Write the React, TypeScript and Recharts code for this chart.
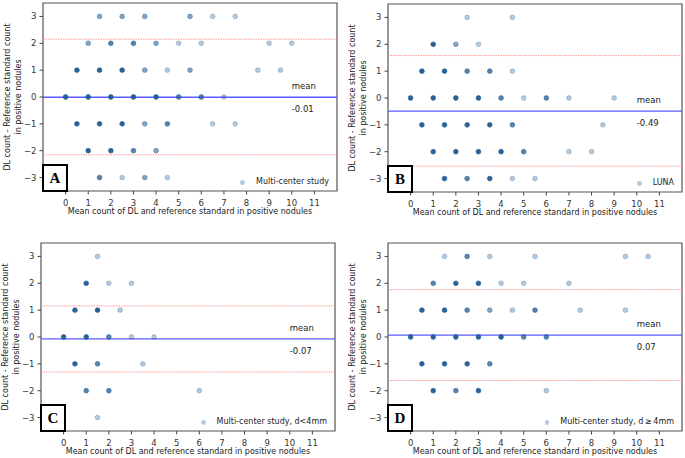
import React from "react";
import {
  ScatterChart,
  Scatter,
  XAxis,
  YAxis,
  ReferenceLine,
  ReferenceArea,
  Label,
} from "recharts";

// [mean count, difference, overlap level 1..4]
type Pt = [number, number, number];

const aPoints: Pt[] = [
  [1.5, 3, 2], [2.5, 3, 2], [3.5, 3, 2], [5.5, 3, 2], [6.5, 3, 1], [7.5, 3, 1],
  [1, 2, 2], [2, 2, 3], [3, 2, 3], [4, 2, 2], [5, 2, 1], [6, 2, 1], [9, 2, 1], [10, 2, 1],
  [0.5, 1, 4], [1.5, 1, 4], [2.5, 1, 4], [3.5, 1, 2], [4.5, 1, 1], [5.5, 1, 2], [8.5, 1, 1], [9.5, 1, 1],
  [0, 0, 4], [1, 0, 4], [2, 0, 4], [3, 0, 4], [4, 0, 4], [5, 0, 3], [6, 0, 3], [7, 0, 1],
  [0.5, -1, 4], [1.5, -1, 4], [2.5, -1, 4], [3.5, -1, 2], [4.5, -1, 3], [6.5, -1, 1], [7.5, -1, 1],
  [1, -2, 4], [2, -2, 4], [3, -2, 3], [4, -2, 2],
  [1.5, -3, 3], [2.5, -3, 1], [3.5, -3, 2], [4.5, -3, 1],
];

const bPoints: Pt[] = [
  [2.5, 3, 1], [4.5, 3, 1],
  [1, 2, 4], [2, 2, 2], [3, 2, 1],
  [0.5, 1, 4], [1.5, 1, 4], [2.5, 1, 3], [3.5, 1, 3], [4.5, 1, 1],
  [0, 0, 4], [1, 0, 4], [2, 0, 4], [3, 0, 4], [4, 0, 3], [5, 0, 1], [6, 0, 3], [7, 0, 1], [9, 0, 1],
  [0.5, -1, 4], [1.5, -1, 4], [2.5, -1, 4], [3.5, -1, 4], [4.5, -1, 3], [8.5, -1, 1],
  [1, -2, 4], [2, -2, 4], [3, -2, 4], [4, -2, 4], [5, -2, 3], [7, -2, 1], [8, -2, 1],
  [1.5, -3, 4], [2.5, -3, 3], [3.5, -3, 4], [4.5, -3, 1], [5.5, -3, 1],
];

const cPoints: Pt[] = [
  [1.5, 3, 1],
  [1, 2, 4], [2, 2, 1], [3, 2, 1],
  [0.5, 1, 4], [1.5, 1, 4], [2.5, 1, 1],
  [0, 0, 4], [1, 0, 4], [2, 0, 3], [3, 0, 1], [4, 0, 1],
  [0.5, -1, 4], [1.5, -1, 3], [3.5, -1, 1],
  [1, -2, 3], [2, -2, 3], [6, -2, 1],
  [1.5, -3, 1],
];

const dPoints: Pt[] = [
  [1.5, 3, 1], [2.5, 3, 3], [3.5, 3, 1], [5.5, 3, 1], [9.5, 3, 1], [10.5, 3, 1],
  [1, 2, 3], [2, 2, 4], [3, 2, 4], [4, 2, 1], [5, 2, 1], [7, 2, 1],
  [0.5, 1, 4], [1.5, 1, 4], [2.5, 1, 3], [3.5, 1, 2], [4.5, 1, 1], [5.5, 1, 3], [7.5, 1, 1], [9.5, 1, 1],
  [0, 0, 4], [1, 0, 4], [2, 0, 4], [3, 0, 4], [4, 0, 4], [5, 0, 3], [6, 0, 3],
  [0.5, -1, 4], [1.5, -1, 4], [2.5, -1, 4], [3.5, -1, 3],
  [1, -2, 4], [2, -2, 3], [3, -2, 4], [6, -2, 1],
];

// mean difference and limits of agreement per panel (A, B, C, D)
const means = [-0.01, -0.49, -0.07, 0.07];
const upperLimits = [2.15, 1.58, 1.16, 1.76];
const lowerLimits = [-2.15, -2.54, -1.3, -1.62];
const letters = ["A", "B", "C", "D"];
const legendNames = [
  "Multi-center study",
  "LUNA",
  "Multi-center study, d<4mm",
  "Multi-center study, d\u2009\u2265\u20094mm",
];

const xTicks = [0, 1, 2, 3, 4, 5, 6, 7, 8, 9, 10, 11];
const yTicks = [-3, -2, -1, 0, 1, 2, 3];

const FONT = '"DejaVu Sans", sans-serif';
const DOT = "#1f5a90";
const ALPHA = [0, 0.33, 0.55, 0.75, 0.95];

const W = 340;
const H = 229;
const PL = 43; // plot left inside chart
const PT = 3;
const PW = 294;
const PH = 188;

const fmt = (v: number) => (v < 0 ? "\u2212" + Math.abs(v) : String(v));

const Dot = (props: any) => {
  const a = ALPHA[props.payload?.n ?? 1];
  return (
    <circle
      cx={props.cx}
      cy={props.cy}
      r={2.4}
      fill={DOT}
      fillOpacity={a}
      stroke={DOT}
      strokeOpacity={Math.min(1, a + 0.1)}
      strokeWidth={0.6}
    />
  );
};

const MeanLabel = (props: any) => {
  const vb = props.viewBox || {};
  const tx = vb.x + (vb.width * 11) / 13;
  return (
    <g fontFamily={FONT} fontSize={8.5} fill="#222">
      <text x={tx} y={vb.y - 11} dominantBaseline="central">mean</text>
      <text x={tx} y={vb.y + 12} dominantBaseline="central">{props.value}</text>
    </g>
  );
};

const YTitle = () => {
  const cy = PT + PH / 2;
  const x1 = PL - 36;
  const x2 = PL - 25;
  return (
    <g fontFamily={FONT} fontSize={8} fill="#222" textAnchor="middle">
      <text x={x1} y={cy} dominantBaseline="central" transform={`rotate(-90 ${x1} ${cy})`}>
        DL count - Reference standard count
      </text>
      <text x={x2} y={cy} dominantBaseline="central" transform={`rotate(-90 ${x2} ${cy})`}>
        in positive nodules
      </text>
    </g>
  );
};

const XTitle = () => (
  <text
    x={PL + PW / 2}
    y={PT + PH + 20}
    textAnchor="middle"
    dominantBaseline="central"
    fontFamily={FONT}
    fontSize={8}
    fill="#222"
  >
    Mean count of DL and reference standard in positive nodules
  </text>
);

function Panel({ i, left, top, points }: { i: number; left: number; top: number; points: Pt[] }) {
  const data = points.map(([x, y, n]) => ({ x, y, n }));
  return (
    <div style={{ position: "absolute", left, top, width: W, height: H }}>
      <ScatterChart
        width={W}
        height={H}
        margin={{ top: PT, right: W - PL - PW, left: PL - 30, bottom: H - PT - PH - 20 }}
      >
        <XAxis
          type="number"
          dataKey="x"
          domain={[-1, 12]}
          ticks={xTicks}
          interval={0}
          height={20}
          axisLine={false}
          tickSize={3.5}
          tickMargin={5}
          tickLine={{ stroke: "#444" }}
          tick={{ fontSize: 8.5, fontFamily: FONT, fill: "#333" }}
          tickFormatter={fmt}
        >
          <Label content={<XTitle />} />
        </XAxis>
        <YAxis
          type="number"
          dataKey="y"
          domain={[-3.5, 3.5]}
          ticks={yTicks}
          interval={0}
          width={30}
          axisLine={false}
          tickSize={3.5}
          tickMargin={3}
          tickLine={{ stroke: "#444" }}
          tick={{ fontSize: 8.5, fontFamily: FONT, fill: "#333" }}
          tickFormatter={fmt}
        >
          <Label content={<YTitle />} />
        </YAxis>
        <ReferenceArea x1={-1} x2={12} y1={-3.5} y2={3.5} fill="none" stroke="#555" strokeWidth={1.2} />
        <ReferenceLine y={upperLimits[i]} stroke="#ff7f7f" strokeOpacity={0.8} strokeDasharray="1.5 1" strokeWidth={1} />
        <ReferenceLine y={lowerLimits[i]} stroke="#ff7f7f" strokeOpacity={0.8} strokeDasharray="1.5 1" strokeWidth={1} />
        <ReferenceLine
          y={means[i]}
          stroke="#5b5bff"
          strokeWidth={1.3}
          label={<MeanLabel value={fmt(means[i]).replace("\u2212", "-")} />}
        />
        <Scatter data={data} shape={<Dot />} isAnimationActive={false} />
      </ScatterChart>
      <div
        style={{
          position: "absolute",
          right: W - PL - PW + 8,
          top: PT + PH - 17,
          height: 14,
          display: "flex",
          alignItems: "center",
          fontFamily: FONT,
          fontSize: 8,
          color: "#222",
          whiteSpace: "nowrap",
        }}
      >
        <span
          style={{
            display: "inline-block",
            width: 4.8,
            height: 4.8,
            borderRadius: "50%",
            background: "rgba(31,90,144,0.33)",
            marginRight: 11,
            marginTop: 3,
          }}
        />
        {legendNames[i]}
      </div>
      <div
        style={{
          position: "absolute",
          left: PL - 1,
          top: PT + PH - 27,
          width: 22,
          height: 24,
          border: "2px solid #000",
          background: "#fff",
          display: "flex",
          alignItems: "center",
          justifyContent: "center",
          fontFamily: '"Liberation Serif", serif',
          fontWeight: "bold",
          fontSize: 15,
          color: "#000",
        }}
      >
        {letters[i]}
      </div>
    </div>
  );
}

export default function App() {
  return (
    <div style={{ position: "absolute", left: 0, top: 0, width: 685, height: 458, background: "#fff" }}>
      <Panel i={0} left={0} top={0} points={aPoints} />
      <Panel i={1} left={345} top={1} points={bPoints} />
      <Panel i={2} left={-2} top={240} points={cPoints} />
      <Panel i={3} left={345} top={240} points={dPoints} />
    </div>
  );
}
